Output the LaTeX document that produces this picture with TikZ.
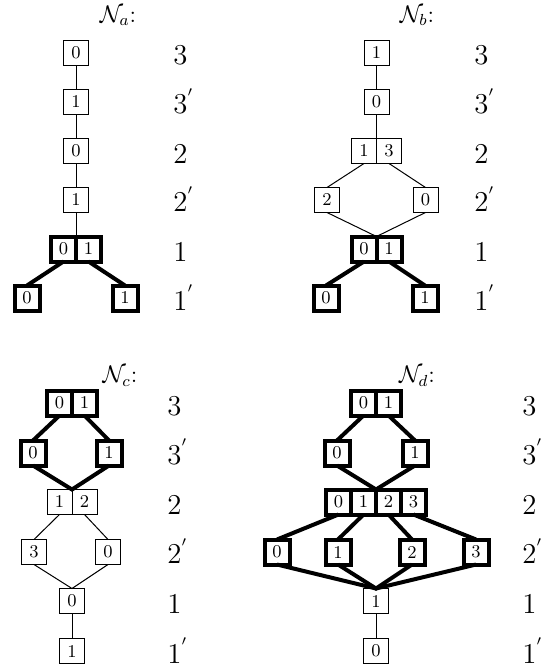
\documentclass[tikz,border=0pt]{standalone}
\begin{document}
\begin{tikzpicture}[x=0.5pt, y=-0.5pt,
    cell/.style={draw, line width=0.5pt, minimum size=12.5pt, inner sep=0pt, outer sep=0pt, font=\small},
    heavy/.style={cell, line width=2pt},
    lbl/.style={anchor=base west, inner sep=0pt, font=\Large},
    ttl/.style={inner sep=0pt, font=\large},
    link/.style={line width=0.5pt},
    boldlink/.style={line width=2pt}]
    \useasboundingbox (0,0) rectangle (544,668);

    % N_a
    \node[ttl] (ta) at (118,16) {$\mathcal{N}_a$:};
    \node[cell] (a3) at (76,53) {0};
    \node[cell] (a3p) at (76,102) {1};
    \node[cell] (a2) at (76,151) {0};
    \node[cell] (a2p) at (76,200) {1};
    \node[heavy] (a1l) at (63.5,249) {0};
    \node[heavy] (a1r) at (88.5,249) {1};
    \node[heavy] (a1pl) at (27,298) {0};
    \node[heavy] (a1pr) at (125,298) {1};
    \draw[link] (a3) -- (a3p) -- (a2) -- (a2p) -- (a1l.north east);
    \draw[boldlink] (a1l.south) -- (a1pl.north);
    \draw[boldlink] (a1r.south) -- (a1pr.north);
    \foreach \t [count=\i] in {3,3^{'},2,2^{'},1,1^{'}}
      \node[lbl] (la\i) at (173,{65+49*(\i-1)}) {$\t$};

    % N_b
    \node[ttl] (tb) at (417,16) {$\mathcal{N}_b$:};
    \node[cell] (b3) at (376.5,53) {1};
    \node[cell] (b3p) at (376.5,102) {0};
    \node[cell] (b2l) at (364,151) {1};
    \node[cell] (b2r) at (389,151) {3};
    \node[cell] (b2pl) at (327,200) {2};
    \node[cell] (b2pr) at (425.5,200) {0};
    \node[heavy] (b1l) at (364,249) {0};
    \node[heavy] (b1r) at (389,249) {1};
    \node[heavy] (b1pl) at (326,298) {0};
    \node[heavy] (b1pr) at (425,298) {1};
    \draw[link] (b3) -- (b3p) -- (b2l.north east);
    \draw[link] (b2l.south) -- (b2pl.north);
    \draw[link] (b2r.south) -- (b2pr.north);
    \draw[link] (b2pl.south) -- (b1l.north east) -- (b2pr.south);
    \draw[boldlink] (b1l.south) -- (b1pl.north);
    \draw[boldlink] (b1r.south) -- (b1pr.north);
    \foreach \t [count=\i] in {3,3^{'},2,2^{'},1,1^{'}}
      \node[lbl] (lb\i) at (474,{65+49*(\i-1)}) {$\t$};

    % N_c
    \node[ttl] (tc) at (120,376) {$\mathcal{N}_c$:};
    \node[heavy] (c3l) at (59.5,403) {0};
    \node[heavy] (c3r) at (84.5,403) {1};
    \node[heavy] (c3pl) at (33,453) {0};
    \node[heavy] (c3pr) at (109,453) {1};
    \node[cell] (c2l) at (59.5,502) {1};
    \node[cell] (c2r) at (84.5,502) {2};
    \node[cell] (c2pl) at (34,552) {3};
    \node[cell] (c2pr) at (108,552) {0};
    \node[cell] (c1) at (72,601) {0};
    \node[cell] (c1p) at (72,651) {1};
    \draw[boldlink] (c3l.south) -- (c3pl.north);
    \draw[boldlink] (c3r.south) -- (c3pr.north);
    \draw[boldlink] (c3pl.south) -- (c2l.north east) -- (c3pr.south);
    \draw[link] (c2l.south) -- (c2pl.north);
    \draw[link] (c2r.south) -- (c2pr.north);
    \draw[link] (c2pl.south) -- (c1.north) -- (c2pr.south);
    \draw[link] (c1) -- (c1p);
    \foreach \t [count=\i] in {3,3^{'},2,2^{'},1,1^{'}}
      \node[lbl] (lc\i) at (167,{415+49.6*(\i-1)}) {$\t$};

    % N_d
    \node[ttl] (td) at (417,376) {$\mathcal{N}_d$:};
    \node[heavy] (d3l) at (363.5,403) {0};
    \node[heavy] (d3r) at (388.5,403) {1};
    \node[heavy] (d3pl) at (337,453) {0};
    \node[heavy] (d3pr) at (415,453) {1};
    \node[heavy] (d2a) at (338.5,502) {0};
    \node[heavy] (d2b) at (363.5,502) {1};
    \node[heavy] (d2c) at (388.5,502) {2};
    \node[heavy] (d2d) at (413.5,502) {3};
    \node[heavy] (d2pa) at (277,552) {0};
    \node[heavy] (d2pb) at (338,552) {1};
    \node[heavy] (d2pc) at (412,552) {2};
    \node[heavy] (d2pd) at (476,552) {3};
    \node[cell] (d1) at (376,601) {1};
    \node[cell] (d1p) at (376,651) {0};
    \draw[boldlink] (d3l.south) -- (d3pl.north);
    \draw[boldlink] (d3r.south) -- (d3pr.north);
    \draw[boldlink] (d3pl.south) -- (d2b.north east) -- (d3pr.south);
    \draw[boldlink] (d2a.south) -- (d2pa.north);
    \draw[boldlink] (d2b.south) -- (d2pb.north);
    \draw[boldlink] (d2c.south) -- (d2pc.north);
    \draw[boldlink] (d2d.south) -- (d2pd.north);
    \draw[boldlink] (d2pa.south) -- (d1.north) -- (d2pd.south);
    \draw[boldlink] (d2pb.south) -- (d1.north) -- (d2pc.south);
    \draw[link] (d1) -- (d1p);
    \foreach \t [count=\i] in {3,3^{'},2,2^{'},1,1^{'}}
      \node[lbl] (ld\i) at (522,{415+49.6*(\i-1)}) {$\t$};
\end{tikzpicture}
\end{document}
